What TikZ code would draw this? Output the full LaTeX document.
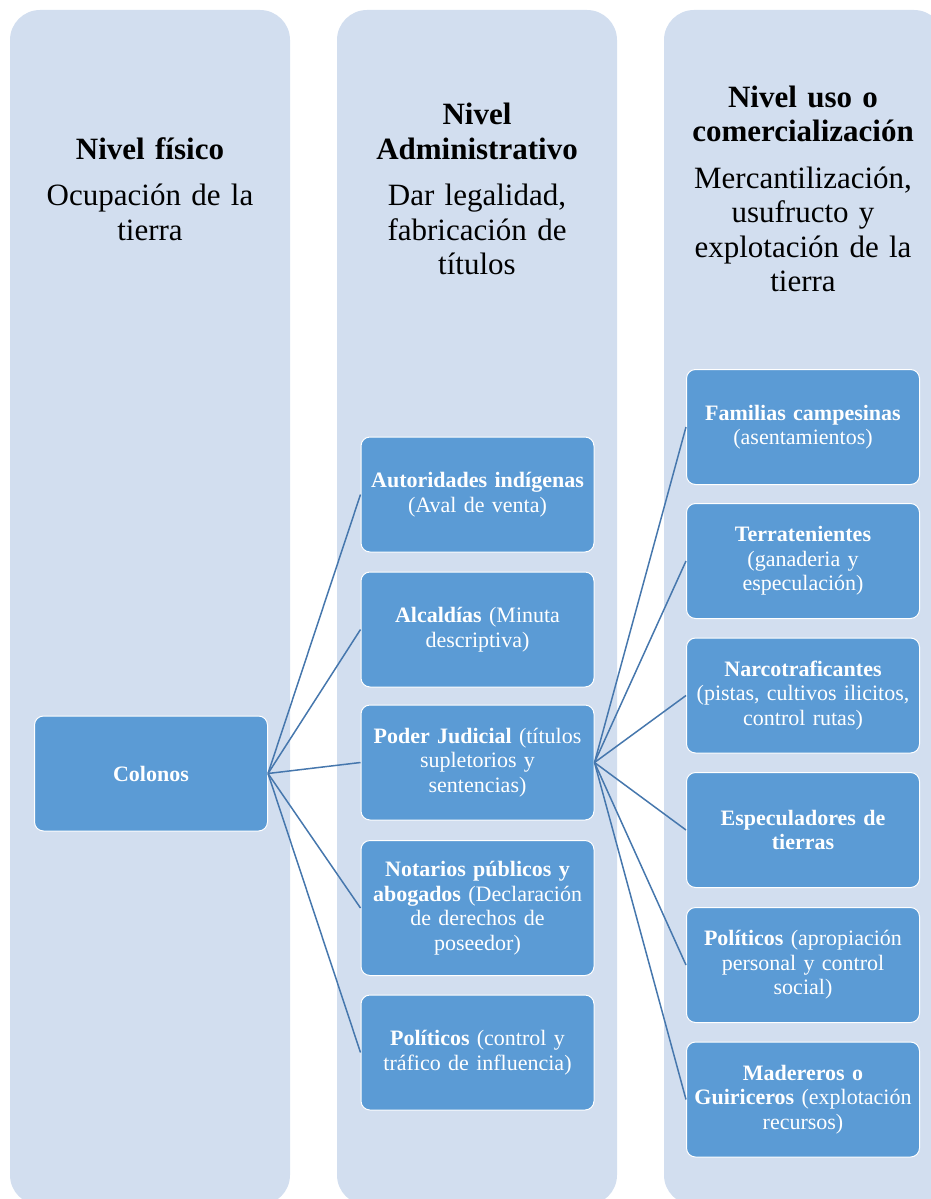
\documentclass[tikz,border=0pt]{standalone}
\usepackage{fontspec}
\setmainfont{Liberation Serif}

\begin{document}
\begin{tikzpicture}[x=1pt,y=-1pt]

\definecolor{colbg}{HTML}{D2DEEF}
\definecolor{boxblue}{HTML}{5B9BD5}
\definecolor{linkblue}{HTML}{4677AD}

\tikzset{
	level/.style={fill=colbg,rounded corners=30pt},
	head/.style={text width=266pt,align=center,inner sep=0pt,font=\fontsize{31}{34.5}\selectfont},
	box/.style={fill=boxblue,draw=white,line width=1pt,rounded corners=9pt,text=white,
		minimum width=233pt,minimum height=115pt,text width=229pt,inner sep=2pt,align=center,
		font=\fontsize{22}{24.5}\selectfont},
	link/.style={draw=linkblue,line width=1.5pt}
}

\useasboundingbox (0,0) rectangle (931,1199);

% the three levels
\foreach \x in {10,337,664}{
	\fill[level] (\x,10) rectangle ({\x+280},1205);
}

\node[head] (h1) at (150,189) {\textbf{Nivel físico}\\[12pt]Ocupación de la\\tierra};
\node[head] (h2) at (477,189) {\textbf{Nivel}\\\textbf{Administrativo}\\[12pt]Dar legalidad,\\fabricación de\\títulos};
\node[head] (h3) at (803,189) {\textbf{Nivel uso o}\\\textbf{comercialización}\\[12pt]Mercantilización,\\usufructo y\\explotación de la\\tierra};

% nivel fisico
\node[box] (col) at (151,773.5) {\textbf{Colonos}};

% nivel administrativo
\node[box] (a1) at (477.5,494.5) {\textbf{Autoridades indígenas}\\(Aval de venta)};
\node[box] (a2) at (477.5,629.5) {\textbf{Alcaldías} (Minuta\\descriptiva)};
\node[box] (a3) at (477.5,762.5) {\textbf{Poder Judicial} (títulos\\supletorios y\\sentencias)};
\node[box,minimum height=135pt] (a4) at (477.5,908) {\textbf{Notarios públicos y}\\\textbf{abogados} (Declaración\\de derechos de\\poseedor)};
\node[box] (a5) at (477.5,1052.5) {\textbf{Políticos} (control y\\tráfico de influencia)};

% nivel uso
\node[box] (c1) at (803,427) {\textbf{Familias campesinas}\\(asentamientos)};
\node[box] (c2) at (803,561) {\textbf{Terratenientes}\\(ganaderia y\\especulación)};
\node[box] (c3) at (803,695.5) {\textbf{Narcotraficantes}\\(pistas, cultivos ilicitos,\\control rutas)};
\node[box] (c4) at (803,830) {\textbf{Especuladores de}\\\textbf{tierras}};
\node[box] (c5) at (803,965) {\textbf{Políticos} (apropiación\\personal y control\\social)};
\node[box] (c6) at (803,1099.5) {\textbf{Madereros o}\\\textbf{Guiriceros} (explotación\\recursos)};

\foreach \i in {1,...,5}{
	\draw[link] (col.east)--(a\i.west);
}

\foreach \i in {1,...,6}{
	\draw[link] (a3.east)--(c\i.west);
}

\end{tikzpicture}
\end{document}
